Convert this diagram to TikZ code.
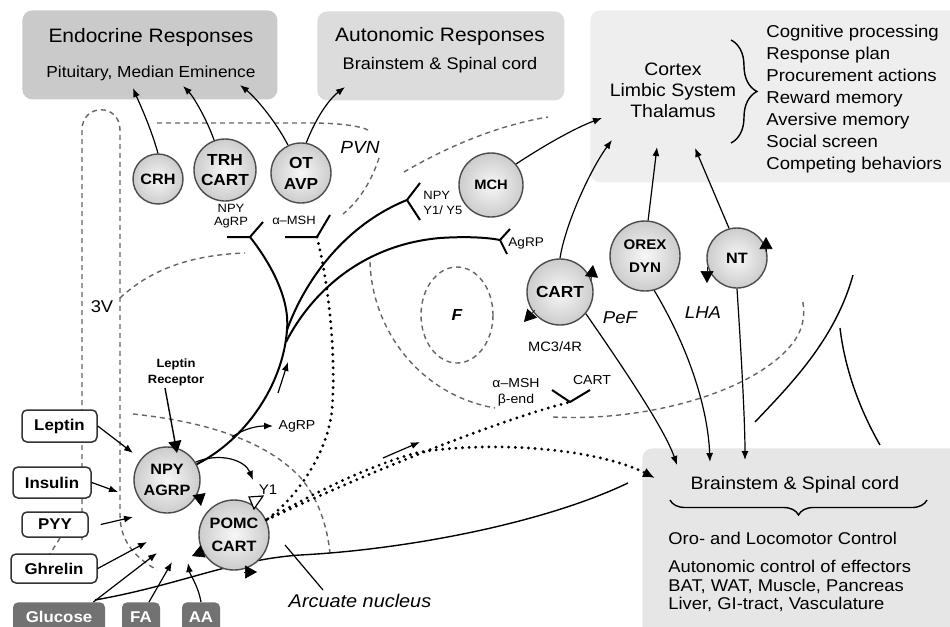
\documentclass[tikz,border=0pt]{standalone}
\usepackage{fontspec}
\setmainfont{Liberation Sans}[FakeStretch=1.08]
\usetikzlibrary{arrows.meta,decorations.pathreplacing,shapes.geometric}
\definecolor{endoc}{HTML}{CACACA}
\definecolor{autoc}{HTML}{DCDCDC}
\definecolor{ctxc}{HTML}{EEEEEE}
\definecolor{bsc}{HTML}{E6E6E6}
\definecolor{fuelc}{HTML}{727272}
\begin{document}
\begin{tikzpicture}[x=0.5pt,y=-0.5pt,
 panel/.style={rounded corners=5pt, inner sep=0pt, anchor=north west},
 cell/.style={circle, draw=black!70, line width=0.7pt, inner color=gray!6, outer color=gray!40, inner sep=0pt, align=center, font=\fontsize{7.5}{10.5}\selectfont\bfseries},
 inbox/.style={draw=black!80, line width=0.75pt, rounded corners=2.5pt, fill=white, inner sep=0pt, font=\fontsize{7.8}{9}\selectfont\bfseries},
 fuel/.style={fill=fuelc, text=white, rounded corners=2.5pt, inner sep=0pt, font=\fontsize{7.8}{9}\selectfont\bfseries, anchor=north, minimum height=15pt},
 lab/.style={inner sep=0pt, align=center, font=\fontsize{6}{6.5}\selectfont},
 reg/.style={inner sep=0pt, font=\fontsize{8.6}{10}\selectfont\itshape},
 arr/.style={line width=0.6pt, -{Latex[length=4.5pt,width=3.5pt]}},
 axon/.style={line width=1pt},
 bdash/.style={draw=black!60, line width=0.7pt, dash pattern=on 2.5pt off 2pt},
 dots/.style={line width=1.6pt, dash pattern=on 0pt off 3.3pt, line cap=round},
 tri/.style={line width=0.3pt, -{Triangle[length=6pt,width=6.5pt]}},
 txt/.style={inner sep=0pt}
]
\useasboundingbox (0,0) rectangle (950,627);
\clip (0,0) rectangle (950,627);
\fill[white] (0,0) rectangle (950,627);

% ---------- panels ----------
\node[panel, fill=endoc, minimum width=127.5pt, minimum height=44.5pt] (endo) at (22,10) {};
\node[panel, fill=autoc, minimum width=123.5pt, minimum height=44.5pt] (auto) at (317,11) {};
\node[panel, fill=ctxc, minimum width=185pt, minimum height=86pt] (ctxbox) at (590,10) {};
\node[panel, fill=bsc, minimum width=159pt, minimum height=96pt] (bsbox) at (642,448) {};

\node[txt, font=\fontsize{9.7}{11}\selectfont] (endoT) at (151,37) {Endocrine Responses};
\node[txt, font=\fontsize{8}{9}\selectfont] (endoS) at (151,73) {Pituitary, Median Eminence};
\node[txt, font=\fontsize{9.7}{11}\selectfont] (autoT) at (440,36) {Autonomic Responses};
\node[txt, font=\fontsize{8.4}{10}\selectfont] (autoS) at (440,65) {Brainstem \& Spinal cord};
\node[txt, align=center, font=\fontsize{9}{10.5}\selectfont] (ctx) at (673,90) {Cortex\\Limbic System\\Thalamus};
\draw[line width=0.7pt, decorate, decoration={brace, amplitude=13pt}] (731,40) -- (731,143);
\node[txt, anchor=west, align=left, font=\fontsize{8.6}{11}\selectfont] (lst) at (766,99) {Cognitive processing\\Response plan\\Procurement actions\\Reward memory\\Aversive memory\\Social screen\\Competing behaviors};

\node[txt, font=\fontsize{9}{10}\selectfont] (bsT) at (795,485) {Brainstem \& Spinal cord};
\draw[line width=0.7pt, decorate, decoration={brace, amplitude=7.5pt}] (927,500) -- (670,500);
\node[txt, anchor=west, font=\fontsize{8.5}{10}\selectfont] (oro) at (668,538) {Oro- and Locomotor Control};
\node[txt, anchor=west, align=left, font=\fontsize{8.5}{9.25}\selectfont] (autonc) at (668,586) {Autonomic control of effectors\\BAT, WAT, Muscle, Pancreas\\Liver, GI-tract, Vasculature};

% ---------- dashed region boundaries ----------
\draw[bdash] (82,540) -- (82,130) .. controls (82,103) and (120,103) .. (120,130) -- (120,515) .. controls (120,545) and (140,560) .. (157,570);
\draw[bdash] (60,538) -- (50,554);
\draw[bdash] (120,298) .. controls (150,270) and (190,255) .. (245,253);
\draw[bdash] (157,123) -- (310,123) .. controls (340,123) and (360,126) .. (368,130);
\draw[bdash] (379,158) .. controls (372,180) and (360,200) .. (343,214);
\draw[bdash] (404,172) .. controls (450,145) and (500,125) .. (548,117);
\draw[bdash] (370,262) .. controls (372,330) and (420,395) .. (495,408);
\draw[bdash] (553,417) .. controls (650,422) and (760,390) .. (795,340) .. controls (805,325) and (805,310) .. (802,298);
\draw[bdash] (457,315) ellipse [x radius=36, y radius=48];
\draw[bdash] (133,414) .. controls (190,420) and (260,435) .. (300,477) .. controls (318,498) and (327,525) .. (330,553);

% ---------- solid anatomical curves ----------
\draw[line width=0.7pt] (95,600) .. controls (180,585) and (230,560) .. (300,555) .. controls (400,550) and (540,525) .. (628,483);
\draw[line width=0.7pt] (755,422) .. controls (790,385) and (835,340) .. (853,275);
\draw[line width=0.7pt] (840,328) .. controls (845,370) and (860,410) .. (880,445);

% ---------- input boxes ----------
\node[inbox, minimum width=37.5pt, minimum height=16pt] (leptin) at (59.5,426) {Leptin};
\node[inbox, minimum width=39pt, minimum height=15.5pt] (insulin) at (52,482.5) {Insulin};
\node[inbox, minimum width=33pt, minimum height=12.5pt] (pyy) at (55,524.5) {PYY};
\node[inbox, minimum width=43pt, minimum height=14.5pt] (ghrelin) at (54,568.5) {Ghrelin};
\node[fuel, minimum width=46pt] (glucose) at (59,602) {Glucose};
\node[fuel, minimum width=19pt] (fa) at (141,602) {FA};
\node[fuel, minimum width=19pt] (aa) at (201,602) {AA};

% ---------- cells ----------
\node[cell, minimum size=25pt] (crh) at (158,179) {CRH};
\node[cell, minimum size=31pt, font=\fontsize{8}{10}\selectfont\bfseries] (trh) at (225,170) {TRH\\CART};
\node[cell, minimum size=30pt, font=\fontsize{8}{10.5}\selectfont\bfseries] (ot) at (301,173) {OT\\AVP};
\node[cell, minimum size=32pt, font=\fontsize{6.8}{8}\selectfont\bfseries] (mch) at (491,185) {MCH};
\node[cell, minimum size=33pt, font=\fontsize{8}{9}\selectfont\bfseries] (cart) at (560,292) {CART};
\node[cell, minimum size=35pt, font=\fontsize{7}{11.5}\selectfont\bfseries] (orex) at (645,256) {OREX\\DYN};
\node[cell, minimum size=30pt, font=\fontsize{7.5}{9}\selectfont\bfseries] (nt) at (737,258) {NT};
\node[cell, minimum size=33pt] (npy) at (167,480) {NPY\\AGRP};
\node[cell, minimum size=35pt, font=\fontsize{7.5}{11.5}\selectfont\bfseries] (pomc) at (234,535) {POMC\\CART};

% ---------- labels ----------
\node[lab] (npyagrp) at (231,216) {NPY\\AgRP};
\node[lab] (msh1) at (294,220) {α–MSH};
\node[reg, font=\fontsize{8.8}{10}\selectfont\itshape] (pvn) at (360,147) {PVN};
\node[lab, anchor=west, align=left, font=\fontsize{6}{7.5}\selectfont] (npyy) at (423,203) {NPY\\Y1/ Y5};
\node[lab, anchor=west, font=\fontsize{6.3}{7}\selectfont] (agrp2) at (508,243) {AgRP};
\node[txt, font=\fontsize{8.5}{10}\selectfont] (v3) at (102,307) {3V};
\node[reg, font=\fontsize{8}{9}\selectfont\itshape\bfseries] (fnuc) at (457,315) {F};
\node[reg] (pef) at (620,318) {PeF};
\node[reg] (lha) at (703,313) {LHA};
\node[lab, font=\fontsize{6.8}{8}\selectfont] (mc34) at (555,347) {MC3/4R};
\node[lab, font=\fontsize{6.5}{8}\selectfont] (mshb) at (516,392) {α–MSH\\β-end};
\node[lab, font=\fontsize{6.5}{8}\selectfont] (cartl) at (592,380) {CART};
\node[lab, font=\fontsize{6}{8}\selectfont\bfseries] (lr) at (176,372) {Leptin\\Receptor};
\node[lab, font=\fontsize{6.5}{8}\selectfont] (agrp3) at (297,426) {AgRP};
\node[lab, font=\fontsize{7}{8}\selectfont] (y1) at (268,490) {Y1};
\node[reg, font=\fontsize{9.2}{10}\selectfont\itshape] (arcn) at (360,601) {Arcuate nucleus};

% ---------- coordinates ----------
\coordinate (e1) at (133,88);
\coordinate (e2) at (183,86);
\coordinate (e3) at (240,85);
\coordinate (a1) at (345,87);
\coordinate (c1) at (602,118);
\coordinate (c2) at (612,140);
\coordinate (c3) at (657,147);
\coordinate (c4) at (695,148);
\coordinate (b1) at (677,465);
\coordinate (b2) at (710,462);
\coordinate (b3) at (745,460);
\coordinate (b4) at (655,478);
\coordinate (fk1) at (250,237);
\coordinate (fk2) at (407,200);
\coordinate (fk3) at (500,240);
\coordinate (fk4) at (317,237);
\coordinate (fk5) at (570,402);
\coordinate (ax) at (287,330);
\coordinate (ax2) at (286,342);

% ---------- efferent arrows ----------
\draw[arr] (crh.north) .. controls (150,125) and (138,100) .. (e1);
\draw[arr] (trh.110) .. controls (205,115) and (192,95) .. (e2);
\draw[arr] (ot.115) .. controls (275,120) and (255,97) .. (e3);
\draw[arr] (ot.80) .. controls (315,120) and (328,100) .. (a1);
\draw[arr] (mch.40) .. controls (545,145) and (575,128) .. (c1);
\draw[arr] (cart.north) .. controls (565,225) and (590,170) .. (c2);
\draw[arr] (orex.85) -- (c3);
\draw[arr] (nt.105) -- (c4);
\draw[arr] (cart.-40) .. controls (625,370) and (665,430) .. (b1);
\draw[arr] (orex.-75) .. controls (690,350) and (708,410) .. (b2);
\draw[arr] (nt.south) .. controls (741,350) and (745,420) .. (b3);

% ---------- axons ----------
\draw[axon] (227,237) -- (fk1) -- (263,222);
\draw[axon] (fk1) .. controls (272,265) and (290,300) .. (ax) .. controls (283,385) and (245,440) .. (npy.28);
\draw[axon] (420,183) -- (fk2) -- (420,220);
\draw[axon] (ax) .. controls (305,280) and (345,225) .. (fk2);
\draw[axon] (510,229) -- (fk3) -- (507,254);
\draw[axon] (ax2) .. controls (310,295) and (360,245) .. (440,238) .. controls (470,236) and (490,238) .. (fk3);
\draw[axon] (285,237) -- (fk4) -- (330,215);
\draw[axon] (552,390) -- (fk5) -- (590,390);

\draw[arr] (232,437) .. controls (245,428) and (258,426) .. (273,426);
\draw[arr] (278,393) -- (288,362);
\draw[arr] (npy.32) .. controls (220,452) and (245,460) .. (253,480);
\draw[arr] (383,458) -- (420,442);

% dotted projections
\draw[dots] (fk4) .. controls (330,290) and (336,360) .. (332,410) .. controls (328,450) and (300,495) .. (pomc.25);
\draw[dots] (pomc.25) .. controls (330,490) and (480,425) .. (fk5);
\draw[dots, -{Latex[length=6pt,width=5pt]}] (pomc.25) .. controls (320,490) and (370,465) .. (420,452) .. controls (500,440) and (600,450) .. (b4);

% ---------- inputs ----------
\coordinate (t1) at (133,453);
\coordinate (t2) at (118,492);
\coordinate (t3) at (133,517);
\coordinate (t4) at (147,542);
\coordinate (t5) at (157,553);
\coordinate (t6) at (172,562);
\coordinate (t7) at (188,563);
\draw[arr] (leptin.east) -- (t1);
\draw[arr] (insulin.east) -- (t2);
\draw[arr] ([xshift=6pt]pyy.east) -- (t3);
\draw[arr] (ghrelin.east) -- (t4);
\draw[arr] ([xshift=-6pt]glucose.north east) -- (t5);
\draw[arr] ([xshift=4pt]fa.north) -- (t6);
\draw[arr] (aa.north) .. controls (198,585) and (190,575) .. (t7);

% leptin receptor
\coordinate (lrs) at (165,388);
\draw[line width=0.7pt, -{Triangle[length=6pt,width=6.5pt]}] (lrs) -- (177,453);

% arcuate pointer
\coordinate (ap) at (285,545);
\draw[line width=0.6pt] (ap) -- (323,590);

% ---------- cycle triangles ----------
\draw[tri] (199,494) -- (201,506);
\draw[tri] (204,551) -- (192,556);
\draw[tri] (244,572) -- (257,572);
\draw[tri] (591,281) -- (593,265);
\draw[tri] (535,310) -- (524,322);
\draw[tri] (766,252) -- (766,237);
\draw[tri] (707,267) -- (707,283);
\draw[fill=white, line width=0.6pt] (263,496) -- (249,497) -- (254,509) -- cycle;
\end{tikzpicture}
\end{document}
